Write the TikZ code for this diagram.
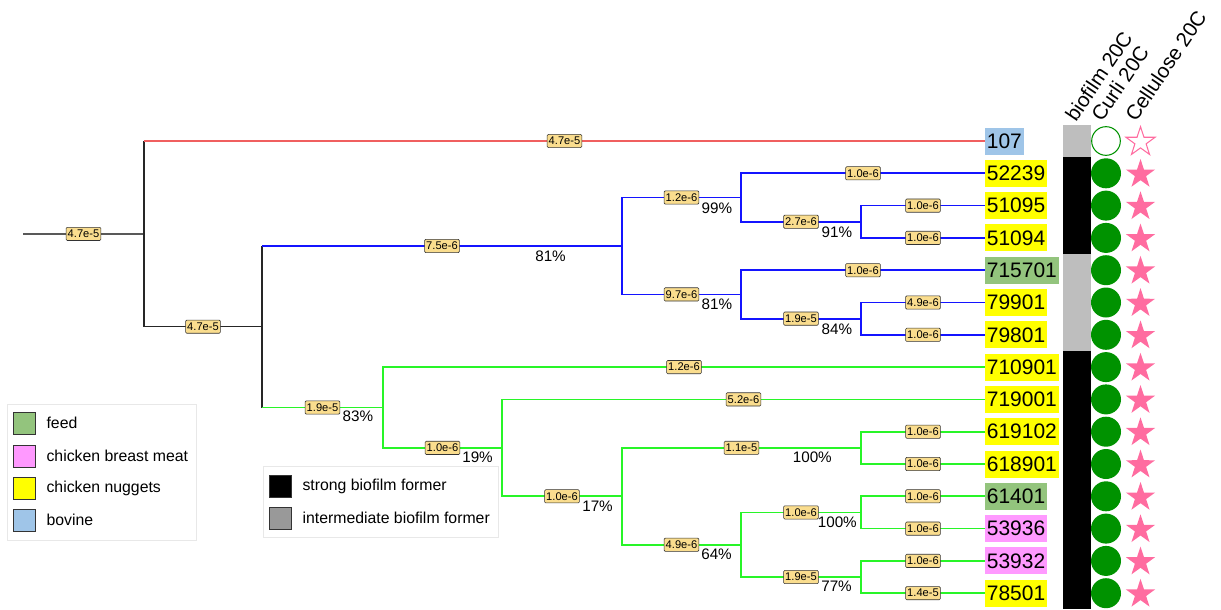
\documentclass[tikz,border=0pt]{standalone}
\usepackage{fontspec}
\setmainfont{Liberation Sans}
\usetikzlibrary{positioning, shapes.geometric}

\definecolor{feedc}{RGB}{147,196,125}
\definecolor{meatc}{RGB}{255,153,255}
\definecolor{nugc}{RGB}{255,255,0}
\definecolor{bovc}{RGB}{159,197,232}
\definecolor{hgray}{RGB}{190,190,190}
\definecolor{igray}{RGB}{153,153,153}
\definecolor{curlic}{RGB}{0,146,0}
\definecolor{cellc}{RGB}{255,108,160}
\definecolor{lenfill}{RGB}{250,221,142}
\definecolor{tredc}{RGB}{240,95,95}
\definecolor{tbluec}{RGB}{20,20,255}
\definecolor{tgreenc}{RGB}{40,245,40}
\definecolor{framec}{RGB}{232,232,232}

\begin{document}
\begin{tikzpicture}[
    x=0.03cm, y=-0.03cm,
    leaf/.style={anchor=west, inner xsep=0.05cm, inner ysep=0pt, minimum height=0.81cm, font=\fontsize{17.9}{20}\selectfont},
    blen/.style={draw=black!80, fill=lenfill, rounded corners=1pt, inner xsep=1.4pt, inner ysep=2.3pt, line width=0.5pt, font=\fontsize{9.5}{10}\selectfont},
    pct/.style={inner sep=0pt, font=\fontsize{13}{14}\selectfont},
    tblack/.style={color=black!85, line width=1.1pt},
    tred/.style={color=tredc, line width=1.2pt},
    tblue/.style={color=tbluec, line width=1.5pt},
    tgreen/.style={color=tgreenc, line width=1.5pt},
    swatch/.style={draw=black!80, line width=0.6pt, minimum size=0.66cm, inner sep=0pt},
    legtext/.style={anchor=west, inner sep=0pt, font=\fontsize{13.5}{15}\selectfont},
    hdr/.style={anchor=base west, inner sep=0pt, rotate=56, font=\fontsize{17.5}{19}\selectfont},
    cstar/.style={star, star points=5, star point ratio=2.6, minimum size=0.92cm, inner sep=0pt}
  ]
    \useasboundingbox (0,0) rectangle (1221,609);

    % leaves
    \foreach \i/\lab/\col in {0/107/bovc, 1/52239/nugc, 2/51095/nugc, 3/51094/nugc,
        4/715701/feedc, 5/79901/nugc, 6/79801/nugc, 7/710901/nugc, 8/719001/nugc,
        9/619102/nugc, 10/618901/nugc, 11/61401/feedc, 12/53936/meatc, 13/53932/meatc, 14/78501/nugc}
      \node[leaf, fill=\col] (l\lab) at (985,{141+32.3*\i}) {\lab};

    % inner nodes
    \coordinate (root) at (23,233.9);
    \coordinate (A) at (144,233.9);
    \coordinate (B) at (262,326.7);
    \coordinate (C) at (622,246);
    \coordinate (D) at (383,407.5);
    \coordinate (E) at (741,197.5);
    \coordinate (F) at (741,294.4);
    \coordinate (G) at (861,221.75);
    \coordinate (H) at (861,318.65);
    \coordinate (I) at (502,447.85);
    \coordinate (J) at (622,496.3);
    \coordinate (K) at (861,447.85);
    \coordinate (L) at (741,544.75);
    \coordinate (M) at (861,512.45);
    \coordinate (N) at (861,577.05);

    % branches
    \draw[tblack, color=black!65] (root) -- (A);
    \draw[tblack] (A |- l107) |- (B);
    \draw[tred] (A |- l107) -- (l107);
    \draw[tblack] (B |- C) -- (B |- D);
    \draw[tblue] (B |- C) -- (C);
    \draw[tgreen] (B |- D) -- (D);
    \foreach \p/\q in {C/E, C/F, E/l52239, E/G, G/l51095, G/l51094, F/l715701, F/H, H/l79901, H/l79801}
      \draw[tblue] (\p) |- (\q);
    \foreach \p/\q in {D/l710901, D/I, I/l719001, I/J, J/K, J/L, K/l619102, K/l618901,
        L/M, L/N, M/l61401, M/l53936, N/l53932, N/l78501}
      \draw[tgreen] (\p) |- (\q);

    % branch lengths
    \path (root) -- node[blen]{4.7e-5} (A);
    \path (A |- l107) -- node[blen]{4.7e-5} (l107);
    \path (A |- l107) |- node[blen, pos=.75]{4.7e-5} (B);
    \path (B |- C) -- node[blen]{7.5e-6} (C);
    \path (B |- D) -- node[blen]{1.9e-5} (D);
    \foreach \p/\q/\len in {C/E/1.2e-6, C/F/9.7e-6, E/l52239/1.0e-6, E/G/2.7e-6,
        G/l51095/1.0e-6, G/l51094/1.0e-6, F/l715701/1.0e-6, F/H/1.9e-5,
        H/l79901/4.9e-6, H/l79801/1.0e-6, D/l710901/1.2e-6, D/I/1.0e-6,
        I/l719001/5.2e-6, I/J/1.0e-6, J/K/1.1e-5, J/L/4.9e-6,
        K/l619102/1.0e-6, K/l618901/1.0e-6, L/M/1.0e-6, L/N/1.9e-5,
        M/l61401/1.0e-6, M/l53936/1.0e-6, N/l53932/1.0e-6, N/l78501/1.4e-5}
      \path (\p) |- node[blen, pos=.75]{\len} (\q);

    % bootstrap values
    \node[pct, below left=0.14cm and 1.68cm of C] (pC) {81\%};
    \node[pct, below left=0.14cm and 0.26cm of E] (pE) {99\%};
    \node[pct, below left=0.14cm and 0.26cm of G] (pG) {91\%};
    \node[pct, below left=0.14cm and 0.26cm of F] (pF) {81\%};
    \node[pct, below left=0.14cm and 0.26cm of H] (pH) {84\%};
    \node[pct, below left=0.10cm and 0.29cm of D] (pD) {83\%};
    \node[pct, below left=0.12cm and 0.27cm of I] (pI) {19\%};
    \node[pct, below left=0.12cm and 0.27cm of J] (pJ) {17\%};
    \node[pct, below left=0.12cm and 0.87cm of K] (pK) {100\%};
    \node[pct, below left=0.12cm and 0.27cm of L] (pL) {64\%};
    \node[pct, below left=0.12cm and 0.12cm of M] (pM) {100\%};
    \node[pct, below left=0.12cm and 0.27cm of N] (pN) {77\%};

    % biofilm column
    \foreach \i/\c in {0/hgray, 1/black, 2/black, 3/black, 4/hgray, 5/hgray, 6/hgray, 7/black,
        8/black, 9/black, 10/black, 11/black, 12/black, 13/black, 14/black}
      \fill[\c] (1063,{141+32.3*\i-16.15}) rectangle (1090.5,{141+32.3*\i+16.15});

    % curli and cellulose
    \draw[curlic, line width=0.9pt] (1106,141) circle[radius=0.43cm];
    \node[cstar, draw=cellc, line width=0.9pt] (s0) at (1140.5,142) {};
    \foreach \i in {1,...,14} {
      \fill[curlic] (1106,{141+32.3*\i}) circle[radius=0.45cm];
      \node[cstar, fill=cellc] (s\i) at (1140.5,{142+32.3*\i}) {};
    }

    % column headers
    \node[hdr] (hbio) at (1076,123) {biofilm 20C};
    \node[hdr] (hcur) at (1102,123) {Curli 20C};
    \node[hdr] (hcel) at (1136,123) {Cellulose 20C};

    % legend: source
    \draw[framec, line width=0.8pt] (7,404) rectangle (196,540);
    \node[swatch, fill=feedc] (kfeed) at (24,423) {};
    \node[swatch, fill=meatc] (kmeat) at (24,456) {};
    \node[swatch, fill=nugc] (knug) at (24,488) {};
    \node[swatch, fill=bovc] (kbov) at (24,520) {};
    \node[legtext, right=0.33cm of kfeed] (tfeed) {feed};
    \node[legtext, right=0.33cm of kmeat] (tmeat) {chicken breast meat};
    \node[legtext, right=0.33cm of knug] (tnug) {chicken nuggets};
    \node[legtext, right=0.33cm of kbov] (tbov) {bovine};

    % legend: biofilm
    \draw[framec, line width=0.8pt] (263,466) rectangle (498,537);
    \node[swatch, fill=black] (kstrong) at (280,486) {};
    \node[swatch, fill=igray] (kinter) at (280,518) {};
    \node[legtext, right=0.33cm of kstrong] (tstrong) {strong biofilm former};
    \node[legtext, right=0.33cm of kinter] (tinter) {intermediate biofilm former};
  \end{tikzpicture}
\end{document}
